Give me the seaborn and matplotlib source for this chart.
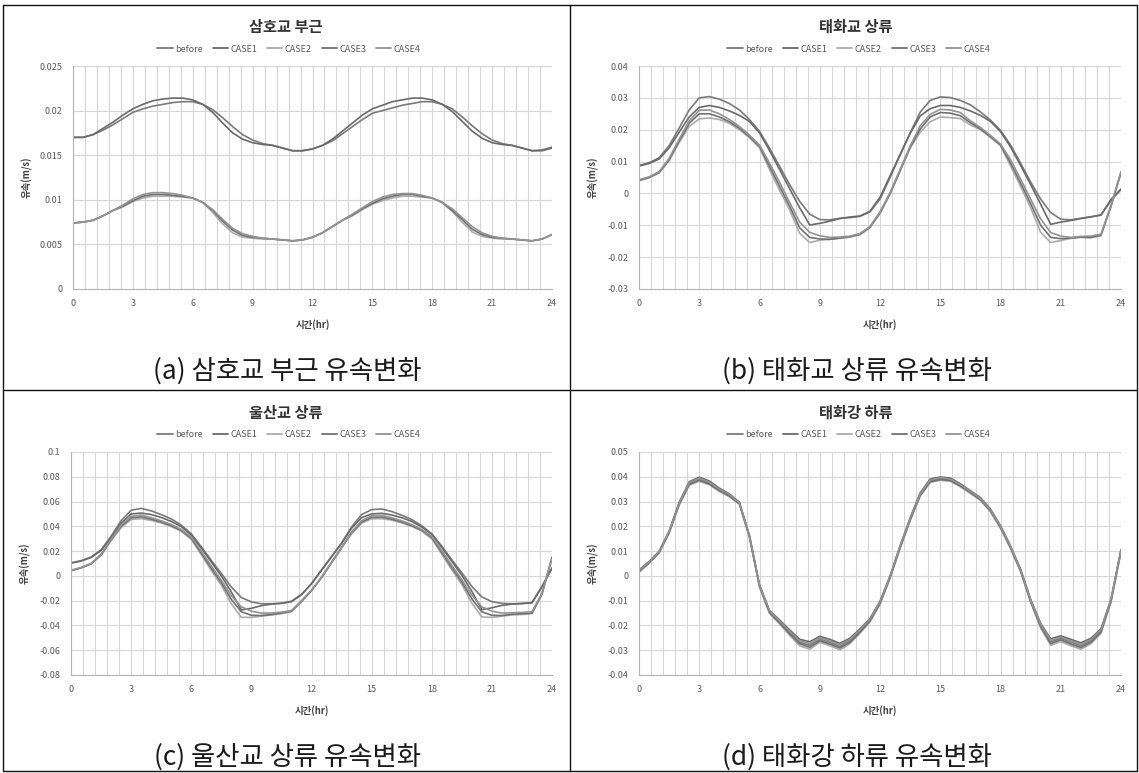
import numpy as np
import pandas as pd
import matplotlib
matplotlib.use("Agg")
import matplotlib.pyplot as plt
from matplotlib.lines import Line2D
from matplotlib.ticker import MultipleLocator, FuncFormatter
import seaborn as sns

sns.set_style("white")
plt.rcParams['font.family'] = ['Noto Sans CJK KR', 'DejaVu Sans']

W, H = 1139, 773

# sampling times (hr), every half hour
hours = [i * 0.5 for i in range(49)]
series_names = ["before", "CASE1", "CASE2", "CASE3", "CASE4"]
line_colors = {"before": "#7a7a7a", "CASE1": "#6a6a6a", "CASE2": "#ababab",
               "CASE3": "#707070", "CASE4": "#939393"}

# ---- (a) 삼호교 부근 ----
a_before = [0.0170, 0.0170, 0.0173, 0.0178, 0.0184, 0.0191, 0.0198, 0.0202, 0.0205, 0.0207,
            0.0209, 0.0210, 0.0210, 0.0207, 0.0201, 0.0192, 0.0182, 0.0173, 0.0167, 0.0163,
            0.0161, 0.0158, 0.0155, 0.0155, 0.0157, 0.0161, 0.0166, 0.0174, 0.0182, 0.0190,
            0.0197, 0.0200, 0.0203, 0.0206, 0.0208, 0.0210, 0.0210, 0.0207, 0.0202, 0.0193,
            0.0183, 0.0174, 0.0167, 0.0163, 0.0161, 0.0158, 0.0155, 0.0156, 0.0159]
a_case1 = [0.0170, 0.0170, 0.0173, 0.0180, 0.0187, 0.0195, 0.0202, 0.0207, 0.0211, 0.0213,
           0.0214, 0.0214, 0.0212, 0.0207, 0.0198, 0.0186, 0.0175, 0.0168, 0.0164, 0.0162,
           0.0161, 0.0158, 0.0155, 0.0155, 0.0157, 0.0161, 0.0168, 0.0177, 0.0186, 0.0195,
           0.0202, 0.0206, 0.0210, 0.0212, 0.0214, 0.0214, 0.0212, 0.0207, 0.0199, 0.0188,
           0.0177, 0.0169, 0.0164, 0.0162, 0.0161, 0.0158, 0.0155, 0.0155, 0.0158]
a_case2 = [0.0074, 0.0075, 0.0077, 0.0082, 0.0088, 0.0092, 0.0098, 0.0102, 0.0104, 0.0104,
           0.0104, 0.0103, 0.0102, 0.0097, 0.0086, 0.0073, 0.0063, 0.0058, 0.0057, 0.0056,
           0.0056, 0.0055, 0.0054, 0.0055, 0.0058, 0.0063, 0.0070, 0.0077, 0.0082, 0.0089,
           0.0095, 0.0099, 0.0102, 0.0104, 0.0104, 0.0103, 0.0102, 0.0097, 0.0087, 0.0075,
           0.0064, 0.0059, 0.0057, 0.0056, 0.0056, 0.0055, 0.0054, 0.0056, 0.0061]
a_case3 = [0.0074, 0.0075, 0.0077, 0.0082, 0.0088, 0.0093, 0.0099, 0.0104, 0.0106, 0.0106,
           0.0105, 0.0104, 0.0102, 0.0097, 0.0088, 0.0076, 0.0066, 0.0060, 0.0058, 0.0057,
           0.0056, 0.0055, 0.0054, 0.0055, 0.0058, 0.0063, 0.0070, 0.0077, 0.0083, 0.0090,
           0.0096, 0.0101, 0.0104, 0.0106, 0.0106, 0.0104, 0.0102, 0.0097, 0.0088, 0.0078,
           0.0067, 0.0061, 0.0058, 0.0057, 0.0056, 0.0055, 0.0054, 0.0056, 0.0061]
a_case4 = [0.0074, 0.0075, 0.0077, 0.0082, 0.0088, 0.0094, 0.0101, 0.0106, 0.0108, 0.0108,
           0.0107, 0.0105, 0.0102, 0.0097, 0.0089, 0.0078, 0.0068, 0.0062, 0.0059, 0.0057,
           0.0056, 0.0055, 0.0054, 0.0055, 0.0058, 0.0063, 0.0070, 0.0077, 0.0084, 0.0091,
           0.0098, 0.0103, 0.0106, 0.0107, 0.0107, 0.0105, 0.0102, 0.0097, 0.0090, 0.0080,
           0.0070, 0.0063, 0.0059, 0.0057, 0.0056, 0.0055, 0.0054, 0.0056, 0.0061]

# ---- (b) 태화교 상류 ----
b_before = [0.0088, 0.0096, 0.0112, 0.0150, 0.0205, 0.0262, 0.0300, 0.0304, 0.0296, 0.0282,
            0.0262, 0.0232, 0.0195, 0.0142, 0.0085, 0.0028, -0.0025, -0.0065, -0.0082, -0.0083,
            -0.0078, -0.0076, -0.0072, -0.0058, -0.0018, 0.0050, 0.0120, 0.0190, 0.0255, 0.0292,
            0.0303, 0.0301, 0.0292, 0.0278, 0.0256, 0.0230, 0.0198, 0.0152, 0.0095, 0.0036,
            -0.0018, -0.0060, -0.0081, -0.0083, -0.0078, -0.0074, -0.0068, -0.0022, 0.0012]
b_case1 = [0.0086, 0.0094, 0.0108, 0.0143, 0.0192, 0.0240, 0.0270, 0.0276, 0.0270, 0.0259,
           0.0245, 0.0226, 0.0190, 0.0135, 0.0075, 0.0015, -0.0045, -0.0099, -0.0094, -0.0087,
           -0.0079, -0.0074, -0.0071, -0.0056, -0.0012, 0.0055, 0.0122, 0.0188, 0.0243, 0.0266,
           0.0276, 0.0276, 0.0270, 0.0259, 0.0245, 0.0226, 0.0194, 0.0146, 0.0088, 0.0028,
           -0.0034, -0.0097, -0.0090, -0.0085, -0.0079, -0.0073, -0.0068, -0.0019, 0.0014]
b_case2 = [0.0040, 0.0049, 0.0064, 0.0102, 0.0160, 0.0210, 0.0234, 0.0237, 0.0232, 0.0220,
           0.0200, 0.0175, 0.0143, 0.0075, 0.0010, -0.0052, -0.0125, -0.0154, -0.0147, -0.0144,
           -0.0141, -0.0137, -0.0130, -0.0108, -0.0063, -0.0003, 0.0070, 0.0142, 0.0192, 0.0225,
           0.0240, 0.0238, 0.0235, 0.0215, 0.0200, 0.0176, 0.0150, 0.0086, 0.0022, -0.0045,
           -0.0122, -0.0154, -0.0148, -0.0141, -0.0138, -0.0139, -0.0133, -0.0042, 0.0065]
b_case3 = [0.0041, 0.0050, 0.0066, 0.0106, 0.0165, 0.0220, 0.0250, 0.0250, 0.0240, 0.0225,
           0.0205, 0.0178, 0.0148, 0.0085, 0.0022, -0.0040, -0.0108, -0.0138, -0.0143, -0.0144,
           -0.0140, -0.0136, -0.0128, -0.0106, -0.0060, 0.0000, 0.0072, 0.0145, 0.0202, 0.0240,
           0.0254, 0.0252, 0.0244, 0.0222, 0.0203, 0.0178, 0.0152, 0.0096, 0.0033, -0.0032,
           -0.0100, -0.0138, -0.0142, -0.0140, -0.0137, -0.0138, -0.0131, -0.0040, 0.0066]
b_case4 = [0.0043, 0.0052, 0.0068, 0.0110, 0.0170, 0.0228, 0.0261, 0.0262, 0.0250, 0.0232,
           0.0210, 0.0183, 0.0152, 0.0095, 0.0035, -0.0028, -0.0090, -0.0122, -0.0133, -0.0138,
           -0.0137, -0.0134, -0.0126, -0.0104, -0.0058, 0.0002, 0.0075, 0.0148, 0.0212, 0.0248,
           0.0264, 0.0262, 0.0254, 0.0228, 0.0207, 0.0182, 0.0155, 0.0106, 0.0045, -0.0018,
           -0.0080, -0.0123, -0.0134, -0.0138, -0.0135, -0.0134, -0.0128, -0.0038, 0.0068]

# ---- (c) 울산교 상류 ----
c_before = [0.0105, 0.0122, 0.0152, 0.0210, 0.0320, 0.0445, 0.0530, 0.0545, 0.0525, 0.0495,
            0.0460, 0.0410, 0.0340, 0.0235, 0.0125, 0.0020, -0.0090, -0.0175, -0.0210, -0.0225,
            -0.0225, -0.0220, -0.0205, -0.0150, -0.0065, 0.0045, 0.0155, 0.0265, 0.0395, 0.0495,
            0.0535, 0.0540, 0.0520, 0.0490, 0.0455, 0.0405, 0.0340, 0.0240, 0.0130, 0.0025,
            -0.0085, -0.0170, -0.0208, -0.0222, -0.0225, -0.0222, -0.0215, -0.0085, 0.0060]
c_case1 = [0.0103, 0.0120, 0.0148, 0.0205, 0.0310, 0.0425, 0.0500, 0.0507, 0.0495, 0.0472,
           0.0440, 0.0398, 0.0330, 0.0225, 0.0112, 0.0000, -0.0130, -0.0275, -0.0262, -0.0240,
           -0.0228, -0.0222, -0.0208, -0.0152, -0.0062, 0.0048, 0.0155, 0.0262, 0.0385, 0.0470,
           0.0500, 0.0505, 0.0492, 0.0470, 0.0440, 0.0395, 0.0335, 0.0230, 0.0118, 0.0005,
           -0.0125, -0.0272, -0.0258, -0.0238, -0.0228, -0.0224, -0.0218, -0.0088, 0.0065]
c_case2 = [0.0042, 0.0063, 0.0096, 0.0165, 0.0285, 0.0390, 0.0455, 0.0462, 0.0448, 0.0428,
           0.0398, 0.0360, 0.0295, 0.0170, 0.0045, -0.0075, -0.0225, -0.0335, -0.0335, -0.0325,
           -0.0315, -0.0305, -0.0288, -0.0210, -0.0120, -0.0015, 0.0105, 0.0225, 0.0340, 0.0425,
           0.0460, 0.0462, 0.0450, 0.0428, 0.0400, 0.0362, 0.0300, 0.0175, 0.0050, -0.0070,
           -0.0220, -0.0332, -0.0335, -0.0325, -0.0315, -0.0312, -0.0305, -0.0150, 0.0145]
c_case3 = [0.0043, 0.0065, 0.0098, 0.0170, 0.0290, 0.0400, 0.0468, 0.0476, 0.0458, 0.0435,
           0.0405, 0.0368, 0.0305, 0.0185, 0.0062, -0.0055, -0.0190, -0.0290, -0.0318, -0.0320,
           -0.0312, -0.0300, -0.0285, -0.0205, -0.0118, -0.0012, 0.0108, 0.0228, 0.0348, 0.0435,
           0.0472, 0.0475, 0.0458, 0.0435, 0.0405, 0.0368, 0.0308, 0.0190, 0.0068, -0.0050,
           -0.0185, -0.0290, -0.0318, -0.0320, -0.0310, -0.0305, -0.0300, -0.0145, 0.0150]
c_case4 = [0.0045, 0.0068, 0.0100, 0.0175, 0.0295, 0.0410, 0.0480, 0.0490, 0.0470, 0.0445,
           0.0415, 0.0375, 0.0315, 0.0200, 0.0080, -0.0035, -0.0160, -0.0250, -0.0285, -0.0300,
           -0.0300, -0.0292, -0.0280, -0.0200, -0.0115, -0.0010, 0.0110, 0.0230, 0.0355, 0.0445,
           0.0485, 0.0488, 0.0470, 0.0445, 0.0415, 0.0375, 0.0318, 0.0205, 0.0085, -0.0030,
           -0.0155, -0.0250, -0.0285, -0.0300, -0.0298, -0.0295, -0.0290, -0.0140, 0.0140]

# ---- (d) 태화강 하류 ----
d_before = [0.0020, 0.0055, 0.0096, 0.0177, 0.0291, 0.0372, 0.0389, 0.0374, 0.0347, 0.0325,
            0.0293, 0.0160, -0.0040, -0.0145, -0.0185, -0.0228, -0.0268, -0.0280, -0.0256, -0.0268,
            -0.0285, -0.0262, -0.0222, -0.0178, -0.0108, -0.0005, 0.0116, 0.0228, 0.0328, 0.0383,
            0.0392, 0.0388, 0.0366, 0.0338, 0.0310, 0.0264, 0.0197, 0.0116, 0.0022, -0.0100,
            -0.0201, -0.0266, -0.0252, -0.0268, -0.0282, -0.0262, -0.0222, -0.0100, 0.0102]
d_case1 = [0.0024, 0.0058, 0.0099, 0.0181, 0.0297, 0.0380, 0.0398, 0.0383, 0.0354, 0.0331,
           0.0297, 0.0163, -0.0036, -0.0140, -0.0178, -0.0218, -0.0256, -0.0266, -0.0244, -0.0256,
           -0.0272, -0.0252, -0.0214, -0.0172, -0.0102, 0.0000, 0.0121, 0.0234, 0.0335, 0.0391,
           0.0399, 0.0395, 0.0372, 0.0344, 0.0316, 0.0270, 0.0203, 0.0121, 0.0027, -0.0094,
           -0.0192, -0.0254, -0.0242, -0.0256, -0.0270, -0.0252, -0.0214, -0.0094, 0.0106]
d_case2 = [0.0014, 0.0050, 0.0092, 0.0172, 0.0285, 0.0366, 0.0382, 0.0368, 0.0341, 0.0320,
           0.0289, 0.0156, -0.0045, -0.0152, -0.0194, -0.0240, -0.0282, -0.0296, -0.0268, -0.0282,
           -0.0298, -0.0274, -0.0232, -0.0186, -0.0115, -0.0010, 0.0111, 0.0222, 0.0322, 0.0377,
           0.0386, 0.0382, 0.0360, 0.0333, 0.0305, 0.0259, 0.0192, 0.0111, 0.0017, -0.0106,
           -0.0210, -0.0280, -0.0265, -0.0282, -0.0296, -0.0274, -0.0232, -0.0106, 0.0098]
d_case3 = [0.0018, 0.0053, 0.0094, 0.0175, 0.0289, 0.0369, 0.0386, 0.0371, 0.0344, 0.0322,
           0.0291, 0.0158, -0.0042, -0.0148, -0.0189, -0.0233, -0.0274, -0.0288, -0.0262, -0.0275,
           -0.0291, -0.0268, -0.0227, -0.0182, -0.0111, -0.0007, 0.0114, 0.0225, 0.0325, 0.0380,
           0.0389, 0.0385, 0.0363, 0.0336, 0.0308, 0.0262, 0.0195, 0.0114, 0.0020, -0.0103,
           -0.0205, -0.0273, -0.0258, -0.0275, -0.0289, -0.0268, -0.0227, -0.0103, 0.0100]
d_case4 = [0.0022, 0.0057, 0.0098, 0.0179, 0.0294, 0.0376, 0.0394, 0.0378, 0.0350, 0.0328,
           0.0295, 0.0162, -0.0038, -0.0142, -0.0182, -0.0223, -0.0262, -0.0273, -0.0250, -0.0262,
           -0.0278, -0.0257, -0.0218, -0.0175, -0.0105, -0.0002, 0.0119, 0.0231, 0.0331, 0.0387,
           0.0396, 0.0391, 0.0369, 0.0341, 0.0313, 0.0267, 0.0200, 0.0119, 0.0025, -0.0097,
           -0.0196, -0.0260, -0.0247, -0.0262, -0.0276, -0.0257, -0.0218, -0.0097, 0.0104]

panels = [
    dict(title="삼호교 부근", caption="(a) 삼호교 부근 유속변화",
         series=[a_before, a_case1, a_case2, a_case3, a_case4],
         ylim=(0, 0.025), ystep=0.005, box=(73, 66, 552, 289), cx=286, row_top=0),
    dict(title="태화교 상류", caption="(b) 태화교 상류 유속변화",
         series=[b_before, b_case1, b_case2, b_case3, b_case4],
         ylim=(-0.03, 0.04), ystep=0.01, box=(639, 66, 1121, 289), cx=856, row_top=0),
    dict(title="울산교 상류", caption="(c) 울산교 상류 유속변화",
         series=[c_before, c_case1, c_case2, c_case3, c_case4],
         ylim=(-0.08, 0.1), ystep=0.02, box=(71, 452, 552, 675), cx=286, row_top=386),
    dict(title="태화강 하류", caption="(d) 태화강 하류 유속변화",
         series=[d_before, d_case1, d_case2, d_case3, d_case4],
         ylim=(-0.04, 0.05), ystep=0.01, box=(639, 452, 1121, 675), cx=856, row_top=386),
]


def fx(px):
    return px / W


def fy(py):
    return 1 - py / H


fig = plt.figure(figsize=(W / 100, H / 100), dpi=100)
fig.patch.set_facecolor("white")

grid_color = "#d6d6d6"
text_gray = "#595959"

for p in panels:
    x0, y0, x1, y1 = p["box"]
    ax = fig.add_axes([fx(x0), fy(y1), (x1 - x0) / W, (y1 - y0) / H])
    df = pd.concat([pd.DataFrame({"시간": hours, "유속": vals, "series": name})
                    for name, vals in zip(series_names, p["series"])], ignore_index=True)
    sns.lineplot(data=df, x="시간", y="유속", hue="series", hue_order=series_names,
                 palette=line_colors, linewidth=1.2, sort=False, errorbar=None,
                 legend=False, ax=ax)
    ax.set_xlim(0, 24)
    ax.set_ylim(*p["ylim"])
    ax.xaxis.set_major_locator(MultipleLocator(3))
    ax.xaxis.set_minor_locator(MultipleLocator(0.6))
    ax.yaxis.set_major_locator(MultipleLocator(p["ystep"]))
    ax.yaxis.set_major_formatter(FuncFormatter(lambda v, pos: "0" if abs(v) < 1e-12 else f"{v:g}"))
    ax.xaxis.set_major_formatter(FuncFormatter(lambda v, pos: f"{v:g}"))
    ax.grid(which="both", axis="x", color=grid_color, linewidth=0.8)
    ax.grid(which="major", axis="y", color=grid_color, linewidth=0.8)
    ax.set_axisbelow(True)
    for side in ("top", "right"):
        ax.spines[side].set_visible(False)
    for side in ("left", "bottom"):
        ax.spines[side].set_color("#b4b4b4")
        ax.spines[side].set_linewidth(0.8)
    ax.tick_params(axis="both", which="major", labelsize=6.5, labelcolor=text_gray,
                   color="#b4b4b4", length=3, width=0.7, pad=4.5)
    ax.tick_params(axis="x", which="minor", color="#b4b4b4", length=2, width=0.6)
    ax.set_xlabel("")
    ax.set_ylabel("")

    rt = p["row_top"]
    cx = p["cx"]
    fig.text(fx(cx), fy(rt + 27), p["title"], ha="center", va="center",
             fontsize=11, fontweight="bold", color="#333333")
    handles = [Line2D([], [], color=line_colors[n], linewidth=1.3) for n in series_names]
    fig.legend(handles, series_names, loc="center", bbox_to_anchor=(fx(cx + 3), fy(rt + 49)),
               ncol=5, frameon=False, fontsize=6.5, handlelength=1.7, handletextpad=0.25,
               columnspacing=1.1, labelcolor=text_gray)
    fig.text(fx(x0 - 46), fy((y0 + y1) / 2), "유속(m/s)", rotation=90, ha="center",
             va="center", fontsize=6.8, fontweight="bold", color="#404040")
    fig.text(fx((x0 + x1) / 2), fy(y1 + 36), "시간(hr)", ha="center", va="center",
             fontsize=6.8, fontweight="bold", color="#404040")
    fig.text(fx(cx + 1), fy(rt + 371), p["caption"], ha="center", va="center",
             fontsize=19, fontweight="light", color="#1a1a1a")

# table frame around the four panels
frame = [((3, 5), (1137, 5)), ((3, 771), (1137, 771)), ((3, 5), (3, 771)),
         ((1137, 5), (1137, 771)), ((570, 5), (570, 771)), ((3, 390), (1137, 390))]
for (xa, ya), (xb, yb) in frame:
    fig.add_artist(Line2D([fx(xa), fx(xb)], [fy(ya), fy(yb)], transform=fig.transFigure,
                          color="#111111", linewidth=1.0))

fig.savefig("out.png", dpi=100, facecolor="white")
